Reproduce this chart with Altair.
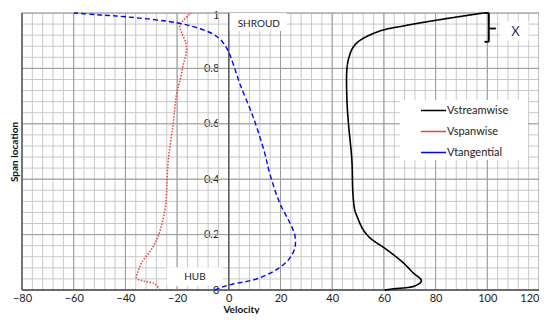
import altair as alt
import pandas as pd

# ---- data ----
stream_span = [0.0, 0.004, 0.015, 0.033, 0.063, 0.099, 0.147, 0.189, 0.219, 0.266, 0.29, 0.35, 0.47,
               0.6, 0.685, 0.8, 0.84, 0.875, 0.90, 0.935, 0.953, 0.974, 1.0]
stream_vel = [60.3, 63.5, 72.1, 74.5, 71.2, 67.4, 60.9, 54.5, 51.9, 49.6, 48.7, 48.0, 47.6,
              46.3, 45.7, 45.7, 46.5, 48.0, 50.6, 58.4, 67.4, 80.3, 98.5]

span_span = [0.0, 0.022, 0.033, 0.042, 0.069, 0.099, 0.147, 0.195, 0.29, 0.35, 0.47, 0.601, 0.708,
             0.766, 0.811, 0.859, 0.895, 0.93, 0.955, 1.0]
span_vel = [-26.7, -28.6, -33.1, -35.7, -35.0, -33.7, -29.9, -27.3, -24.7, -24.1, -23.4, -21.5, -20.2,
            -18.6, -17.7, -16.4, -16.7, -18.3, -18.9, -14.6]

tang_span = [0.0, 0.01, 0.02, 0.039, 0.063, 0.081, 0.108, 0.15, 0.195, 0.243, 0.314, 0.422, 0.494,
             0.625, 0.744, 0.816, 0.864, 0.90, 0.924, 0.947, 0.965, 0.986, 0.993, 1.0]
tang_vel = [-5.5, -2.8, 1.0, 10.5, 16.5, 19.7, 23.0, 25.5, 25.6, 23.6, 19.7, 15.8, 13.9,
            9.4, 4.3, 1.7, -0.3, -2.8, -6.1, -12.5, -20.2, -39.5, -49.9, -59.9]

series_names = ["Vstreamwise", "Vspanwise", "Vtangential"]
series_colors = ["#000000", "#f03c3c", "#0000ff"]
series_dash = [[1, 0], [1.5, 1.5], [5, 3]]
series_width = [1.6, 1.4, 1.8]

x_ticks = [-80, -60, -40, -20, 0, 20, 40, 60, 80, 100, 120]
y_ticks = [0, 0.2, 0.4, 0.6, 0.8, 1]
x_minor = list(range(-80, 121, 4))
y_minor = [round(i * 0.04, 2) for i in range(26)]

# annotation boxes (incl. legend background) and labels
box_x1 = [0.0, -24.0, 105.0, 66.2]
box_x2 = [22.4, -2.3, 116.0, 115.7]
box_y1 = [0.935, 0.014, 0.90, 0.469]
box_y2 = [1.0, 0.082, 0.971, 0.686]
box_labels = ["SHROUD", "HUB", "X"]
label_x = [11.6, -13.1, 110.9]
label_y = [0.961, 0.047, 0.932]
label_size = [10, 10, 13]
label_color = ["#222222", "#222222", "#1f3864"]

# bracket "}" segments
br_x1 = [98.5, 100.6, 98.9, 100.6]
br_x2 = [100.6, 100.6, 100.6, 103.3]
br_y1 = [1.0, 1.0, 0.896, 0.944]
br_y2 = [1.0, 0.896, 0.896, 0.944]

FONT = "Lato"
W, H = 517, 277

rows = []
for name, sp, ve in [("Vstreamwise", stream_span, stream_vel),
                     ("Vspanwise", span_span, span_vel),
                     ("Vtangential", tang_span, tang_vel)]:
    for i, (s, v) in enumerate(zip(sp, ve)):
        rows.append({"series": name, "span": s, "vel": v, "idx": i})
lines_df = pd.DataFrame(rows)

xs = alt.Scale(domain=[-80, 120], nice=False, zero=False)
ys = alt.Scale(domain=[0, 1], nice=False, zero=False)


def X(field, **kw):
    return alt.X(field, type="quantitative", scale=xs, axis=None, **kw)


def Y(field, **kw):
    return alt.Y(field, type="quantitative", scale=ys, axis=None, **kw)


minor_x = alt.Chart(pd.DataFrame({"v": x_minor})).mark_rule(color="#c9c9c9", strokeWidth=1).encode(x=X("v"))
minor_y = alt.Chart(pd.DataFrame({"v": y_minor})).mark_rule(color="#c9c9c9", strokeWidth=1).encode(y=Y("v"))
major_x = alt.Chart(pd.DataFrame({"v": x_ticks})).mark_rule(color="#9a9a9a", strokeWidth=1).encode(x=X("v"))
major_y = alt.Chart(pd.DataFrame({"v": y_ticks})).mark_rule(color="#9a9a9a", strokeWidth=1).encode(y=Y("v"))

boxes = alt.Chart(pd.DataFrame({"x1": box_x1, "x2": box_x2, "y1": box_y1, "y2": box_y2})).mark_rect(
    color="white").encode(x=X("x1"), x2="x2", y=Y("y1"), y2="y2")

dark_x = alt.Chart(pd.DataFrame({"v": [-80, 0]})).mark_rule(color="#505050", strokeWidth=1.3).encode(x=X("v"))
dark_y = alt.Chart(pd.DataFrame({"v": [0]})).mark_rule(color="#505050", strokeWidth=1.3).encode(y=Y("v"))

zero_off = -W * 80 / 200

lines = alt.Chart(lines_df).mark_line(interpolate="catmull-rom").encode(
    x=alt.X("vel:Q", scale=xs,
            axis=alt.Axis(orient="bottom", values=x_ticks, format="d", grid=False, ticks=False,
                          domain=False, labelPadding=2, labelFont=FONT, labelFontSize=11,
                          labelColor="#222222", labelFlush=False,
                          labelAlign={"condition": {"test": "datum.value == 120", "value": "right"},
                                      "value": "center"},
                          title="Velocity", titleFont=FONT, titleFontSize=10, titleFontWeight="bold",
                          titleColor="#111111", titlePadding=1, titleX=219)),
    y=alt.Y("span:Q", scale=ys,
            axis=alt.Axis(orient="left", values=y_ticks, format="~g", grid=False, ticks=False,
                          domain=False, offset=zero_off, labelPadding=10, labelFont=FONT,
                          labelFontSize=11, labelColor="#222222", labelFlush=False,
                          labelOffset={"condition": {"test": "datum.value == 1", "value": 2},
                                       "value": 0},
                          title="Span location", titleFont=FONT, titleFontSize=10,
                          titleFontWeight="bold", titleColor="#111111",
                          titleX=14 - 22 + zero_off, titleY=H / 2, titleAngle=270,
                          titleBaseline="middle", titleAlign="center")),
    order="idx:Q",
    color=alt.Color("series:N", scale=alt.Scale(domain=series_names, range=series_colors),
                    legend=alt.Legend(orient="none", legendX=388, legendY=74,
                                      padding=10, title=None, symbolType="stroke", symbolSize=625,
                                      labelFont=FONT, labelFontSize=11, labelColor="#222222",
                                      rowPadding=2, labelOffset=0)),
    strokeDash=alt.StrokeDash("series:N", scale=alt.Scale(domain=series_names, range=series_dash),
                              legend=None),
    strokeWidth=alt.StrokeWidth("series:N", scale=alt.Scale(domain=series_names, range=series_width),
                                legend=None),
)

texts = alt.Chart(pd.DataFrame({"t": box_labels, "x": label_x, "y": label_y, "s": label_size,
                                "c": label_color})).mark_text(font=FONT, baseline="middle", align="center").encode(
    x=X("x"), y=Y("y"), text="t:N",
    size=alt.Size("s:Q", scale=None, legend=None),
    color=alt.Color("c:N", scale=None, legend=None))

bracket = alt.Chart(pd.DataFrame({"x1": br_x1, "x2": br_x2, "y1": br_y1, "y2": br_y2})).mark_rule(
    color="#000000", strokeWidth=1.8).encode(x=X("x1"), x2="x2", y=Y("y1"), y2="y2")

chart = alt.layer(minor_x, minor_y, major_x, major_y, boxes, dark_x, dark_y, lines, texts, bracket).resolve_scale(
    color="independent"
).resolve_axis(
    x="independent", y="independent"
).properties(
    width=W, height=H,
    autosize=alt.AutoSizeParams(type="none"),
    padding={"left": 14, "top": 5, "right": 0, "bottom": 24},
).configure_view(stroke="#8a8a8a", strokeWidth=1).configure(background="white")

chart.save("out.html", embed_options={"renderer": "svg", "actions": False})
